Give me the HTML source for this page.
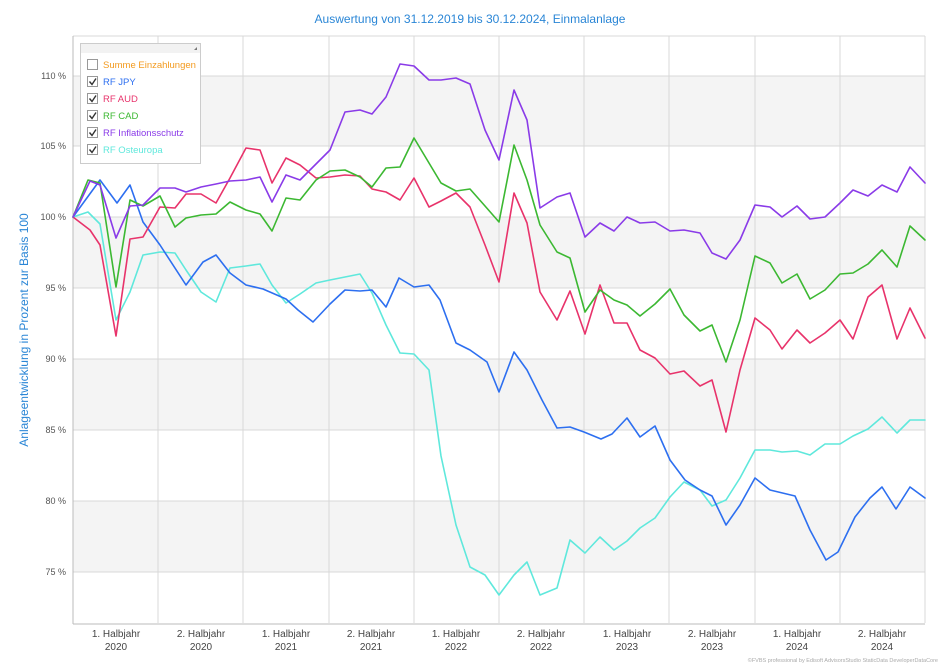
<!DOCTYPE html>
<html><head><meta charset="utf-8"><style>
body{margin:0;background:#fff;width:940px;height:665px;overflow:hidden;font-family:"Liberation Sans",sans-serif}
</style></head><body>
<svg width="940" height="665" viewBox="0 0 940 665" xmlns="http://www.w3.org/2000/svg" font-family="Liberation Sans, sans-serif">
<text x="470" y="23" text-anchor="middle" font-size="12" fill="#2a86d6">Auswertung von 31.12.2019 bis 30.12.2024, Einmalanlage</text>
<text transform="translate(28,330) rotate(-90)" text-anchor="middle" font-size="12" fill="#2a86d6">Anlageentwicklung  in Prozent zur Basis 100</text>
<!-- bands -->
<rect x="73" y="76" width="852" height="70" fill="#f4f4f4"/>
<rect x="73" y="217" width="852" height="71" fill="#f4f4f4"/>
<rect x="73" y="359" width="852" height="71" fill="#f4f4f4"/>
<rect x="73" y="501" width="852" height="71" fill="#f4f4f4"/>
<g stroke="#d8d8d8" stroke-width="1">
<line x1="73" y1="76" x2="925" y2="76"/><line x1="73" y1="146" x2="925" y2="146"/>
<line x1="73" y1="217" x2="925" y2="217"/><line x1="73" y1="288" x2="925" y2="288"/>
<line x1="73" y1="359" x2="925" y2="359"/><line x1="73" y1="430" x2="925" y2="430"/>
<line x1="73" y1="501" x2="925" y2="501"/><line x1="73" y1="572" x2="925" y2="572"/>
<line x1="158" y1="36" x2="158" y2="623"/><line x1="243" y1="36" x2="243" y2="623"/>
<line x1="329" y1="36" x2="329" y2="623"/><line x1="414" y1="36" x2="414" y2="623"/>
<line x1="499" y1="36" x2="499" y2="623"/><line x1="584" y1="36" x2="584" y2="623"/>
<line x1="669" y1="36" x2="669" y2="623"/><line x1="755" y1="36" x2="755" y2="623"/>
<line x1="840" y1="36" x2="840" y2="623"/><line x1="925" y1="36" x2="925" y2="623"/>
<line x1="73" y1="36" x2="925" y2="36"/>
</g>
<line x1="73" y1="36" x2="73" y2="624" stroke="#bbb"/>
<line x1="73" y1="624" x2="925" y2="624" stroke="#bbb"/>
<g font-size="9" fill="#555" text-anchor="end">
<text x="66" y="79">110 %</text><text x="66" y="149">105 %</text><text x="66" y="220">100 %</text>
<text x="66" y="291">95 %</text><text x="66" y="362">90 %</text><text x="66" y="433">85 %</text>
<text x="66" y="504">80 %</text><text x="66" y="575">75 %</text>
</g>
<g font-size="10" fill="#444" text-anchor="middle">
<text x="116" y="637">1. Halbjahr</text><text x="116" y="650">2020</text>
<text x="201" y="637">2. Halbjahr</text><text x="201" y="650">2020</text>
<text x="286" y="637">1. Halbjahr</text><text x="286" y="650">2021</text>
<text x="371" y="637">2. Halbjahr</text><text x="371" y="650">2021</text>
<text x="456" y="637">1. Halbjahr</text><text x="456" y="650">2022</text>
<text x="541" y="637">2. Halbjahr</text><text x="541" y="650">2022</text>
<text x="627" y="637">1. Halbjahr</text><text x="627" y="650">2023</text>
<text x="712" y="637">2. Halbjahr</text><text x="712" y="650">2023</text>
<text x="797" y="637">1. Halbjahr</text><text x="797" y="650">2024</text>
<text x="882" y="637">2. Halbjahr</text><text x="882" y="650">2024</text>
</g>
<text x="938" y="662" text-anchor="end" font-size="5.5" fill="#aaa">©FVBS professional by Edisoft AdvisorsStudio StaticData DeveloperDataCore</text>
<g fill="none" stroke-width="1.6" stroke-linejoin="round" stroke-linecap="round">
<polyline stroke="#5fe8dc" points="73,217 88,212 100,224 116,320 130,292 143,255 160,252 175,253 186,270 201,292 216,302 230,268 246,266 260,264 272,285 286,303 300,294 316,283 330,280 345,277 360,274 372,293 386,325 400,353 414,354 429,370 441,456 456,525 470,567 485,575 499,595 514,575 527,562 540,595 557,588 570,540 585,553 600,537 614,550 627,541 640,528 655,518 670,497 684,482 700,490 712,506 726,500 740,478 755,450 770,450 782,452 797,451 810,455 825,444 840,444 853,436 868,429 882,417 897,433 910,420 925,420"/>
<polyline stroke="#2d6ff0" points="73,217 100,180 117,203 130,185 143,222 160,245 186,285 203,262 216,255 230,273 246,285 263,289 286,299 298,310 313,322 330,304 345,290 360,291 372,290 386,307 399,278 414,287 429,285 440,300 456,343 470,350 487,362 499,392 514,352 527,370 542,400 557,428 570,427 584,432 601,439 612,434 627,418 640,437 655,426 670,460 685,480 700,490 712,496 726,525 740,505 755,478 770,490 795,496 810,530 826,560 838,552 855,517 870,498 882,487 896,509 910,487 925,498"/>
<polyline stroke="#e8336b" points="73,217 90,230 100,245 116,336 130,239 143,237 160,207 175,208 186,194 201,194 216,203 230,178 246,148 260,150 272,183 286,158 300,165 316,178 330,177 345,175 360,176 372,189 386,192 400,200 414,178 429,207 441,201 456,193 470,207 485,245 499,282 514,193 527,223 540,292 557,320 570,291 585,334 600,285 614,323 627,323 640,350 655,358 670,374 684,371 700,386 712,380 726,432 740,370 755,318 770,330 782,349 797,330 810,343 825,333 840,320 853,339 868,297 882,285 897,339 910,308 925,338"/>
<polyline stroke="#3cb832" points="73,217 88,180 100,183 116,287 130,200 143,206 160,196 175,227 186,218 201,215 216,214 230,202 246,210 260,214 272,231 286,198 300,200 316,180 330,171 345,170 360,177 372,187 386,168 400,167 414,138 429,163 441,183 456,191 470,189 485,206 499,222 514,145 527,180 540,225 557,252 570,258 585,312 600,290 614,300 627,305 640,316 655,304 670,289 684,315 700,331 712,325 726,362 740,320 755,256 770,263 782,283 797,274 810,299 825,290 840,274 853,273 868,264 882,250 897,267 910,226 925,240"/>
<polyline stroke="#8a3be8" points="73,217 90,181 100,185 116,238 130,206 143,205 160,188 175,188 186,192 201,187 216,184 230,181 246,180 260,177 272,202 286,175 300,180 316,164 330,150 345,112 360,110 372,114 386,97 400,64 414,66 429,80 441,80 456,78 470,84 485,130 499,160 514,90 527,120 540,208 557,197 570,193 585,237 600,223 614,231 627,217 640,223 655,222 670,231 684,230 700,233 712,253 726,259 740,240 755,205 770,207 782,217 797,206 810,219 825,217 840,203 853,190 868,196 882,185 897,192 910,167 925,183"/>
</g>
<!-- legend -->
<rect x="80.5" y="43.5" width="120" height="120" fill="#fff" stroke="#ccc"/>
<rect x="81" y="44" width="119" height="9" fill="#f2f2f2"/>
<path d="M194 50 L197 47 L197 50 Z" fill="#777"/>
<g font-size="9.5">
<rect x="87.5" y="59.5" width="10" height="10" fill="#fff" stroke="#999"/>
<text x="103" y="68" fill="#f39a1e">Summe Einzahlungen</text>
<text x="103" y="85" fill="#2d6ff0">RF JPY</text>
<text x="103" y="102" fill="#e8336b">RF AUD</text>
<text x="103" y="119" fill="#3cb832">RF CAD</text>
<text x="103" y="136" fill="#8a3be8">RF Inflationsschutz</text>
<text x="103" y="153" fill="#5fe8dc">RF Osteuropa</text>
</g>
<g fill="#fff" stroke="#999">
<rect x="87.5" y="76.5" width="10" height="10"/><rect x="87.5" y="93.5" width="10" height="10"/>
<rect x="87.5" y="110.5" width="10" height="10"/><rect x="87.5" y="127.5" width="10" height="10"/>
<rect x="87.5" y="144.5" width="10" height="10"/>
</g>
<g fill="none" stroke="#333" stroke-width="1.4">
<path d="M89.5 81.5 l2.5 3 l4 -6"/><path d="M89.5 98.5 l2.5 3 l4 -6"/>
<path d="M89.5 115.5 l2.5 3 l4 -6"/><path d="M89.5 132.5 l2.5 3 l4 -6"/>
<path d="M89.5 149.5 l2.5 3 l4 -6"/>
</g>
</svg>
</body></html>
